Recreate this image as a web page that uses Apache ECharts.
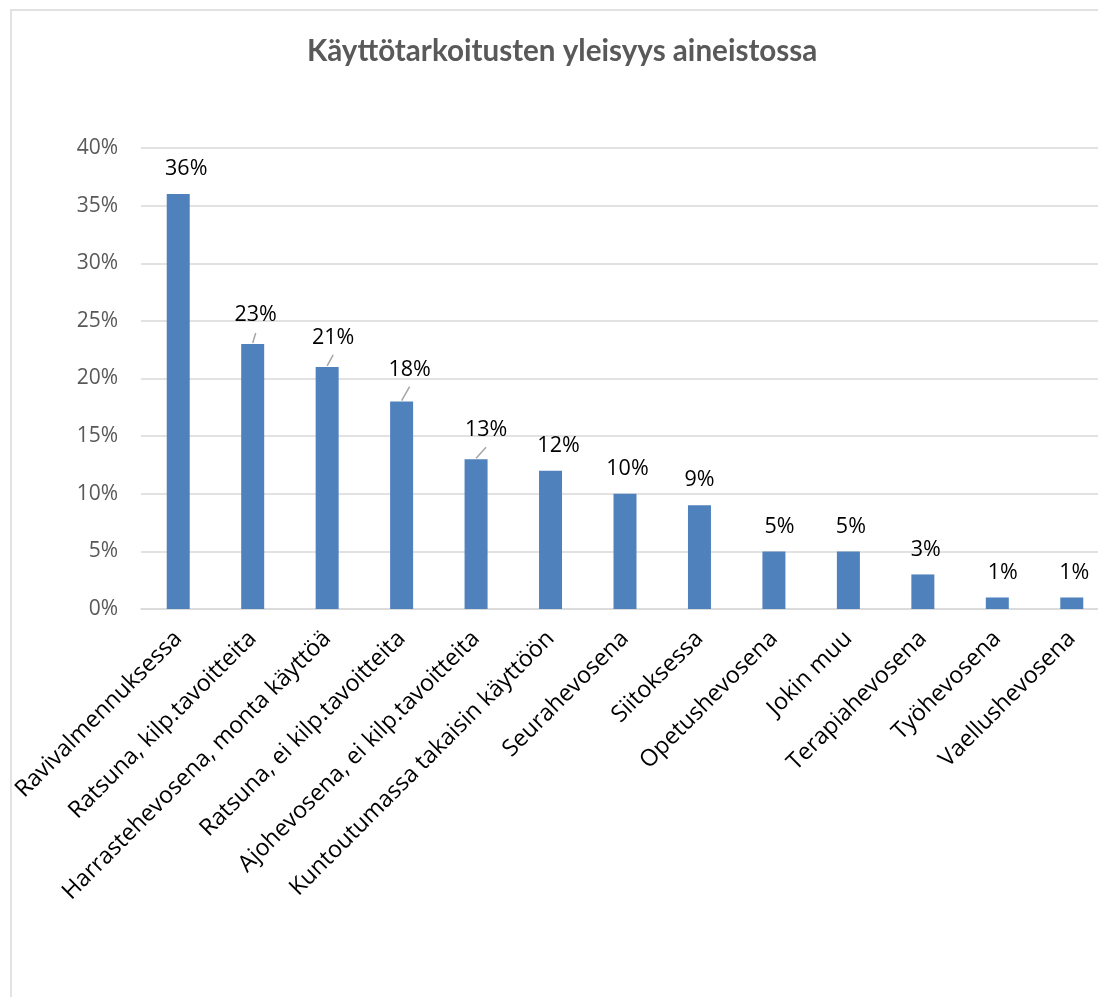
<!DOCTYPE html>
<html><head><meta charset="utf-8">
<script src="https://cdn.jsdelivr.net/npm/echarts@6/dist/echarts.min.js"></script>
<style>html,body{margin:0;padding:0;background:#fff;overflow:hidden;width:1098px;height:997px}#c{width:1120px;height:997px}</style>
</head><body><div id="c"></div>
<script>
const titleText = 'Käyttötarkoitusten yleisyys aineistossa';
const categories = ['Ravivalmennuksessa','Ratsuna, kilp.tavoitteita','Harrastehevosena, monta käyttöä','Ratsuna, ei kilp.tavoitteita','Ajohevosena, ei kilp.tavoitteita','Kuntoutumassa takaisin käyttöön','Seurahevosena','Siitoksessa','Opetushevosena','Jokin muu','Terapiahevosena','Työhevosena','Vaellushevosena'];
const values = [36,23,21,18,13,12,10,9,5,5,3,1,1];
const yTicks = {min:0, max:40, interval:5};
const leaderIdx = [1,2,3,4];

// styling: label offsets (px) and leader line ends (px)
const labelDx = [8,3,6,8,10,8,2.5,0,5.5,2.5,3,5.5,2.5];
const labelDy = {1:-4,2:-4,3:-7,4:-4};
const leaderEnd = {1:[3,-11],2:[6,-12],3:[8,-15],4:[10,-12]};

const chart = echarts.init(document.getElementById('c'), null, {renderer:'canvas'});
chart.setOption({
  backgroundColor:'#fff',
  animation:false,
  title:{text:titleText, left:302, top:31,
    textStyle:{fontFamily:'Lato', fontSize:29.6, fontWeight:'bold', color:'#595959'}},
  graphic:[{type:'rect', shape:{x:11,y:10,width:1200,height:1100}, style:{fill:null, stroke:'#d9d9d9', lineWidth:1.5}, silent:true}],
  grid:{left:141, width:968, top:148, bottom:388, containLabel:false},
  xAxis:{type:'category', data:categories,
    axisLine:{lineStyle:{color:'#d9d9d9', width:1.5}}, axisTick:{show:false},
    axisLabel:{rotate:45, interval:0, margin:26, color:'#000', fontFamily:'Open Sans', fontSize:23.3}},
  yAxis:{type:'value', min:yTicks.min, max:yTicks.max, interval:yTicks.interval,
    axisLine:{show:false}, axisTick:{show:false},
    axisLabel:{formatter:'{value}%', color:'#595959', fontFamily:'Open Sans', fontSize:21, margin:23},
    splitLine:{lineStyle:{color:'#d9d9d9', width:1.5}}},
  series:[{type:'bar', data:values, barWidth:23,
    itemStyle:{color:'#4f81bd'},
    label:{show:true, position:'top', distance:14, formatter:'{c}%', color:'#000', fontFamily:'Open Sans', fontSize:21.5},
    labelLayout: function(p){
      return {dx: labelDx[p.dataIndex] || 0, dy: labelDy[p.dataIndex] || 0};
    }
  },{
    type:'custom', silent:true, z:5,
    data: leaderIdx.map(i=>[i, values[i]]),
    renderItem: function(params, api){
      const i = api.value(0);
      const p = api.coord([i, api.value(1)]);
      const e = leaderEnd[i];
      return {type:'line', shape:{x1:p[0], y1:p[1]-1, x2:p[0]+e[0], y2:p[1]+e[1]},
        style:{stroke:'#a6a6a6', lineWidth:1.5}};
    }
  }]
});
</script></body></html>
